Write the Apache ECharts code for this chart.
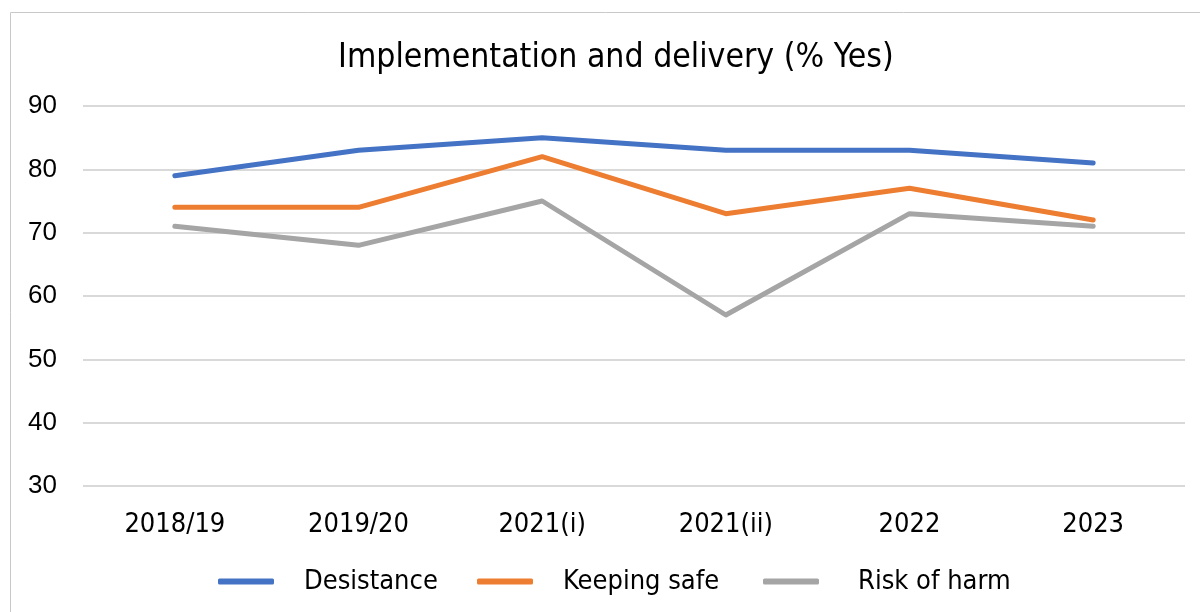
<!DOCTYPE html>
<html><head><meta charset="utf-8">
<script src="https://cdn.jsdelivr.net/npm/echarts@6/dist/echarts.min.js"></script>
<style>html,body{margin:0;padding:0;background:#fff}#c{width:1200px;height:612px}</style>
</head><body><div id="c"></div>
<script>
const categories = ['2018/19','2019/20','2021(i)','2021(ii)','2022','2023'];
const desistance = [79,83,85,83,83,81];
const keepingSafe = [74,74,82,73,77,72];
const riskOfHarm = [71,68,75,57,73,71];
const seriesNames = ['Desistance','Keeping safe','Risk of harm'];
const colors = ['#4472C4','#ED7D31','#A5A5A5'];
const FONT = '"DejaVu Sans Condensed","DejaVu Sans",sans-serif';
const chart = echarts.init(document.getElementById('c'), null, {renderer:'canvas'});
const mk = (name, data, color) => ({
  name, type:'line', data, symbol:'none', smooth:false,
  lineStyle:{width:5, color, cap:'round', join:'round'}, itemStyle:{color},
  emphasis:{disabled:true}
});
const legendLeft = [218, 477, 763];
const legendPad = [25, 25, 34];
const legends = seriesNames.map((n, i) => ({
  data:[n], bottom:17, left:legendLeft[i], itemWidth:56, itemHeight:6, padding:0,
  icon:'roundRect', selectedMode:false,
  textStyle:{fontFamily:FONT, fontSize:27, color:'#000', padding:[0,0,0,legendPad[i]]}
}));
chart.setOption({
  animation:false,
  graphic:[{type:'rect', shape:{x:10.5,y:12.5,width:1200,height:620}, style:{fill:'none', stroke:'#c9c9c9', lineWidth:1}, z:-1}],
  title:{text:'Implementation and delivery (% Yes)', left:333, top:36,
    textStyle:{fontFamily:FONT, fontSize:33.5, fontWeight:'normal', color:'#000'}},
  grid:{left:83, right:15, top:106, bottom:126},
  legend:legends,
  xAxis:{type:'category', data:categories, boundaryGap:true,
    axisLine:{show:false}, axisTick:{show:false},
    axisLabel:{fontFamily:FONT, fontSize:27, color:'#000', margin:25}},
  yAxis:{type:'value', min:30, max:90, interval:10,
    axisLine:{show:false}, axisTick:{show:false},
    splitLine:{lineStyle:{color:'#d9d9d9', width:2}},
    axisLabel:{fontFamily:'"Liberation Sans",Arial,sans-serif', fontSize:26, color:'#000', margin:26}},
  series:[mk(seriesNames[0], desistance, colors[0]), mk(seriesNames[1], keepingSafe, colors[1]), mk(seriesNames[2], riskOfHarm, colors[2])]
});
</script></body></html>
